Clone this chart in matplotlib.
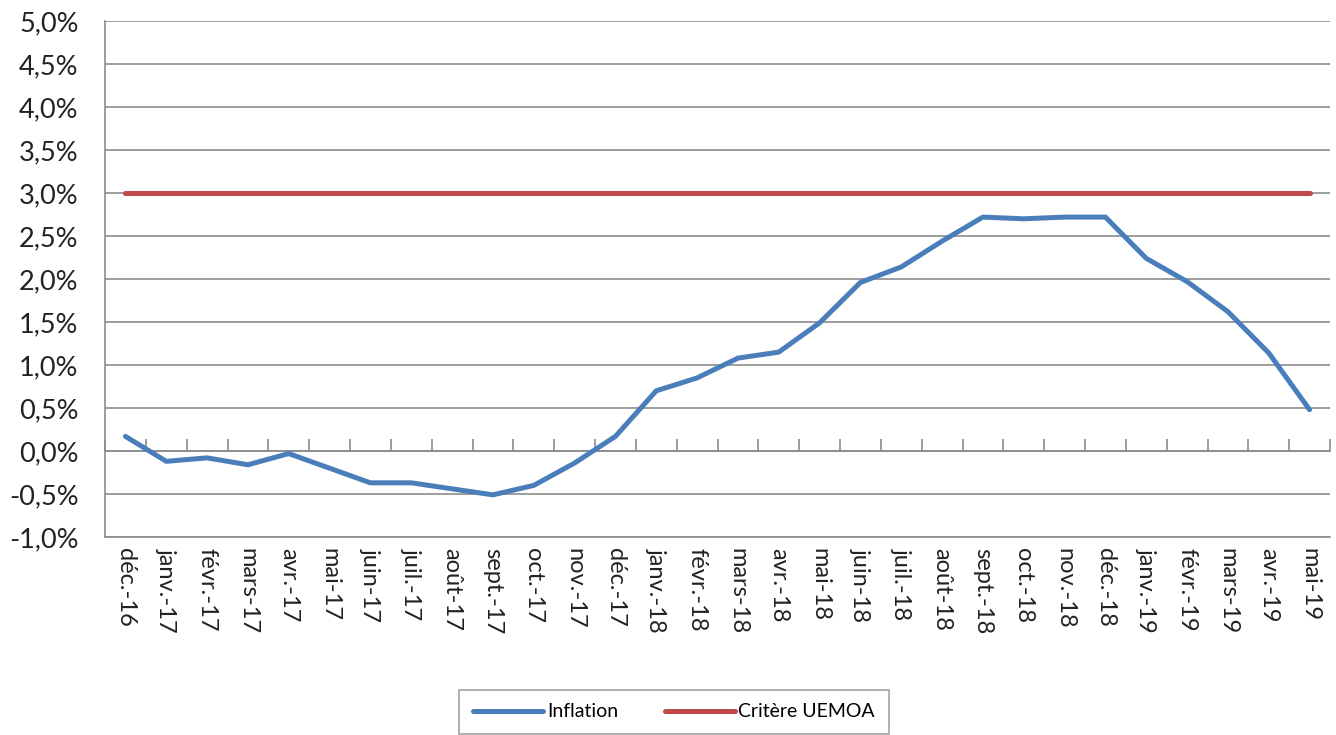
import matplotlib.pyplot as plt
import numpy as np
from matplotlib.ticker import FuncFormatter

plt.rcParams['font.family'] = ['Lato', 'DejaVu Sans']

# Monthly data
months = ['déc.-16', 'janv.-17', 'févr.-17', 'mars-17', 'avr.-17', 'mai-17',
          'juin-17', 'juil.-17', 'août-17', 'sept.-17', 'oct.-17', 'nov.-17',
          'déc.-17', 'janv.-18', 'févr.-18', 'mars-18', 'avr.-18', 'mai-18',
          'juin-18', 'juil.-18', 'août-18', 'sept.-18', 'oct.-18', 'nov.-18',
          'déc.-18', 'janv.-19', 'févr.-19', 'mars-19', 'avr.-19', 'mai-19']
inflation = [0.17, -0.12, -0.08, -0.16, -0.03, -0.20, -0.37, -0.37, -0.44, -0.51,
             -0.40, -0.14, 0.17, 0.70, 0.85, 1.08, 1.15, 1.49, 1.96, 2.14,
             2.44, 2.72, 2.70, 2.72, 2.72, 2.24, 1.97, 1.62, 1.14, 0.48]
critere = [3.0] * len(months)

blue = '#4A7EBB'
red = '#BE4B48'
grid_col = '#8C8C8C'

fig = plt.figure(figsize=(13.36, 7.35), dpi=100)
ax = fig.add_axes([105 / 1336, 1 - 537 / 735, 1225 / 1336, 516 / 735])

x = np.arange(len(months))
ax.plot(x, inflation, color=blue, linewidth=3.6, label='Inflation', solid_capstyle='round', zorder=3)
ax.plot(x, critere, color=red, linewidth=3.6, label='Critère UEMOA', solid_capstyle='round', zorder=3)

ax.set_xlim(-0.5, len(months) - 0.5)
ax.set_ylim(-1.0, 5.0)
ax.set_yticks(np.arange(-1.0, 5.01, 0.5))
ax.yaxis.set_major_formatter(FuncFormatter(lambda v, p: f'{v:.1f}%'.replace('.', ',')))
ax.tick_params(axis='y', length=0, labelsize=19.5, pad=19, labelcolor='#222222')
ax.grid(axis='y', color=grid_col, linewidth=1.2)
ax.set_axisbelow(True)

# category axis drawn at zero, ticks between categories
ax.spines['bottom'].set_position(('data', 0))
ax.spines['bottom'].set_color(grid_col)
ax.spines['bottom'].set_linewidth(1.2)
ax.set_xticks(np.arange(len(months) + 1) - 0.5)
ax.tick_params(axis='x', direction='in', length=9, color=grid_col, width=1.2, labelbottom=False)
for s in ['top', 'right']:
    ax.spines[s].set_visible(False)
ax.spines['left'].set_color(grid_col)
ax.spines['left'].set_linewidth(1.2)

# labels along the bottom of the plot area
sec = ax.secondary_xaxis('bottom')
sec.spines['bottom'].set_position(('axes', 0))
sec.spines['bottom'].set_color(grid_col)
sec.spines['bottom'].set_linewidth(1.2)
sec.set_xticks(x)
sec.set_xticklabels(months, rotation=-90, fontsize=17, color='#222222')
sec.tick_params(axis='x', length=0, pad=8)

leg = fig.legend(loc='upper center', bbox_to_anchor=(674 / 1336, 1 - 680 / 735), ncol=2,
                 fontsize=14, frameon=True, fancybox=False, edgecolor='#8C8C8C',
                 handlelength=3.6, columnspacing=2.4, handletextpad=0.2,
                 borderpad=0.7)
leg.get_frame().set_linewidth(1.2)

fig.savefig('out.png', dpi=100)
